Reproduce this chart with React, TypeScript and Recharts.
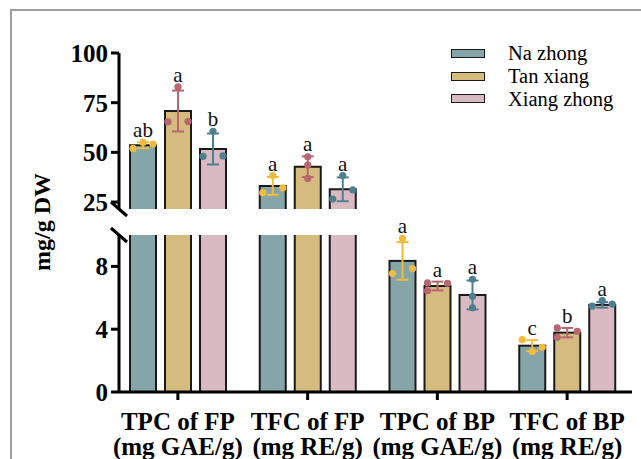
import React from 'react';
import { BarChart, Bar, XAxis, YAxis, ErrorBar, Legend } from 'recharts';

const FONT = '"Liberation Serif", "Times New Roman", serif';

const categories = ['TPC of FP', 'TFC of FP', 'TPC of BP', 'TFC of BP'];
const units = ['(mg GAE/g)', '(mg RE/g)', '(mg GAE/g)', '(mg RE/g)'];
const varieties = ['Na zhong', 'Tan xiang', 'Xiang zhong'];

// bar heights (mean) and SD
const naZhongMean = [53.6, 33.1, 8.35, 2.95];
const tanXiangMean = [70.8, 42.8, 6.75, 3.78];
const xiangZhongMean = [51.7, 31.4, 6.18, 5.55];

const naZhongSd = [1.5, 4.5, 1.2, 0.35];
const tanXiangSd = [10.3, 5.2, 0.28, 0.3];
const xiangZhongSd = [7.8, 6.0, 0.92, 0.18];

// replicate points
const naZhongReps = [[52.0, 55.0, 54.2], [29.7, 38.3, 32.1], [7.54, 9.79, 7.86], [3.33, 2.58, 2.85]];
const tanXiangReps = [[65.3, 83.0, 65.5], [36.9, 43.6, 47.8], [6.45, 6.95, 6.92], [3.48, 4.08, 3.87]];
const xiangZhongReps = [[48.0, 60.6, 48.2], [26.5, 38.3, 31.1], [5.36, 6.1, 7.18], [5.47, 5.82, 5.6]];

// significance letters
const naZhongLetters = ['ab', 'a', 'a', 'c'];
const tanXiangLetters = ['a', 'a', 'a', 'b'];
const xiangZhongLetters = ['b', 'a', 'a', 'a'];

const topTicks = [25, 50, 75, 100];
const bottomTicks = [0, 4, 8];
const topDomain: [number, number] = [21.5, 100];
const bottomDomain: [number, number] = [0, 10];

// horizontal placement of replicate dots (-1 left, 0 centre, 1 right)
const naZhongSpread = [[-1, 0, 1], [-1, 0, 1], [-1, 0, 1], [-1, 0, 1]];
const tanXiangSpread = [[-1, 0, 1], [0, 0, 0], [-1, -1, 1], [-1, -1, 1]];
const xiangZhongSpread = [[-1, 0, 1], [-1, 0, 1], [0, 0, 0], [-1, 0, 1]];

const series = [
  { key: 'naZhong', name: varieties[0], mean: naZhongMean, sd: naZhongSd, reps: naZhongReps, letters: naZhongLetters, spread: naZhongSpread, fill: '#86a5a8', mark: '#f1bb3c' },
  { key: 'tanXiang', name: varieties[1], mean: tanXiangMean, sd: tanXiangSd, reps: tanXiangReps, letters: tanXiangLetters, spread: tanXiangSpread, fill: '#d6bb7f', mark: '#b8666f' },
  { key: 'xiangZhong', name: varieties[2], mean: xiangZhongMean, sd: xiangZhongSd, reps: xiangZhongReps, letters: xiangZhongLetters, spread: xiangZhongSpread, fill: '#d9bac3', mark: '#4f7e8e' },
];

const inUpper = (v: number) => v > bottomDomain[1];

function buildRows(keep: (v: number) => boolean) {
  return categories.map((category, i) => {
    const row: any = { category };
    series.forEach((s) => {
      const ok = keep(s.mean[i]);
      row[s.key] = ok ? s.mean[i] : null;
      row[s.key + 'Sd'] = ok ? s.sd[i] : null;
    });
    return row;
  });
}

const upperRows = buildRows(inUpper);
const lowerRows = buildRows(() => true);
const lowerMarkRows = buildRows((v) => !inUpper(v));

const W = 641;
const H = 459;
const AXIS_W = 60;
const LEFT = 59;
const RIGHT = 9;
const TOP_Y = 53;
const TOP_END = 209;
const LOW_Y = 235;
const X_AXIS_H = 67;
const AXIS_X = LEFT + AXIS_W;

const axisStroke = { stroke: '#000', strokeWidth: 3 };
const tickFont = { fill: '#000', fontSize: 25, fontWeight: 'bold', fontFamily: FONT };

function barShape(s: any, base: number, opts: { fill: boolean; openBottom?: boolean; marks: boolean }) {
  return (props: any) => {
    const { x, y, width, height, payload } = props;
    const i = categories.indexOf(payload?.category);
    const mean = payload?.[s.key];
    if (mean == null || i < 0 || !(height > 0)) return <g />;
    const py = (v: number) => y + height - ((v - base) * height) / (mean - base);
    const cx = x + width / 2;
    const parts: any[] = [];
    if (opts.fill) {
      parts.push(
        <rect key="f" x={x} y={y} width={width} height={height} fill={s.fill}
          stroke={opts.openBottom ? 'none' : '#1a1a1a'} strokeWidth={2} />
      );
      if (opts.openBottom) {
        parts.push(
          <path key="o" d={`M${x},${y + height}V${y}H${x + width}V${y + height}`}
            fill="none" stroke="#1a1a1a" strokeWidth={2} />
        );
      }
    }
    if (opts.marks) {
      s.reps[i].forEach((v: number, k: number) => {
        parts.push(<circle key={'d' + k} cx={cx + s.spread[i][k] * 10} cy={py(v)} r={3.6} fill={s.mark} />);
      });
      const top = Math.min(py(mean + s.sd[i]), ...s.reps[i].map(py));
      parts.push(
        <text key="l" x={cx} y={top - 5} textAnchor="middle" fontFamily={FONT} fontSize={21} fill="#111">
          {s.letters[i]}
        </text>
      );
    }
    return <g>{parts}</g>;
  };
}

const CategoryTick = (props: any) => {
  const { x, y, payload } = props;
  const i = categories.indexOf(payload.value);
  return (
    <text x={x} y={y} textAnchor="middle" fontFamily={FONT} fontSize={25} fontWeight="bold" fill="#000">
      <tspan x={x} dy={28}>{categories[i]}</tspan>
      <tspan x={x} dy={25}>{units[i]}</tspan>
    </text>
  );
};

const LEGEND_ROW = 22.8;

const renderLegend = () => (
  <div style={{ fontFamily: FONT, fontSize: 20.5, color: '#000' }}>
    {series.map((s) => (
      <div key={s.key} style={{ position: 'relative', height: LEGEND_ROW }}>
        <span style={{ position: 'absolute', left: 0, top: 6.9, width: 34, height: 9, background: s.fill, border: '1.5px solid #1a1a1a', boxSizing: 'border-box' }} />
        <span style={{ position: 'absolute', left: 57, top: 0, lineHeight: `${LEGEND_ROW}px`, height: LEGEND_ROW, whiteSpace: 'nowrap' }}>{s.name}</span>
      </div>
    ))}
  </div>
);

const layer: React.CSSProperties = { position: 'absolute', left: 0, top: 0 };

export default function App() {
  return (
    <div style={{ position: 'absolute', left: 0, top: 0, width: W, height: H, background: '#fff' }}>
      {/* lower segment: bars cut at the break */}
      <div style={layer}>
        <BarChart width={W} height={H} data={lowerRows} barSize={26} barGap={9}
          margin={{ top: LOW_Y, right: RIGHT, bottom: 0, left: LEFT }}>
          <XAxis dataKey="category" height={X_AXIS_H} padding={{ left: -6, right: 0 }} tickSize={8}
            axisLine={axisStroke} tickLine={axisStroke} tick={<CategoryTick />} interval={0} />
          <YAxis type="number" domain={bottomDomain} ticks={bottomTicks} allowDataOverflow width={AXIS_W}
            tickSize={8} tickMargin={3} axisLine={axisStroke} tickLine={axisStroke} tick={tickFont} interval={0} />
          {series.map((s) => (
            <Bar key={s.key} dataKey={s.key} name={s.name} fill={s.fill} isAnimationActive={false}
              shape={barShape(s, 0, { fill: true, marks: false })} />
          ))}
        </BarChart>
      </div>

      {/* lower segment: error bars, points, letters (unclipped) */}
      <div style={layer}>
        <BarChart width={W} height={H} data={lowerMarkRows} barSize={26} barGap={9}
          margin={{ top: LOW_Y, right: RIGHT, bottom: 0, left: LEFT }}>
          <XAxis dataKey="category" height={X_AXIS_H} padding={{ left: -6, right: 0 }}
            axisLine={false} tickLine={false} tick={false} />
          <YAxis type="number" domain={bottomDomain} width={AXIS_W} axisLine={false} tickLine={false} tick={false} />
          {series.map((s) => (
            <Bar key={s.key} dataKey={s.key} name={s.name} fill="none" isAnimationActive={false}
              shape={barShape(s, 0, { fill: false, marks: true })}>
              <ErrorBar dataKey={s.key + 'Sd'} width={6} stroke={s.mark} strokeWidth={2} isAnimationActive={false} />
            </Bar>
          ))}
        </BarChart>
      </div>

      {/* upper segment */}
      <div style={layer}>
        <BarChart width={W} height={H} data={upperRows} barSize={26} barGap={9}
          margin={{ top: TOP_Y, right: RIGHT, bottom: H - TOP_END, left: LEFT }}>
          <XAxis dataKey="category" hide padding={{ left: -6, right: 0 }} />
          <YAxis type="number" domain={topDomain} ticks={topTicks} width={AXIS_W}
            tickSize={8} tickMargin={3} axisLine={axisStroke} tickLine={axisStroke} tick={tickFont} interval={0} />
          <Legend layout="vertical" align="center" verticalAlign="middle" content={renderLegend}
            wrapperStyle={{ top: 42, left: 451, width: 190 }} />
          {series.map((s) => (
            <Bar key={s.key} dataKey={s.key} name={s.name} fill={s.fill} isAnimationActive={false}
              shape={barShape(s, topDomain[0], { fill: true, openBottom: true, marks: true })}>
              <ErrorBar dataKey={s.key + 'Sd'} width={6} stroke={s.mark} strokeWidth={2} isAnimationActive={false} />
            </Bar>
          ))}
        </BarChart>
      </div>

      {/* frame, axis title, break marks */}
      <svg width={W} height={H} style={{ ...layer, pointerEvents: 'none' }}>
        <path d={`M11,${H}V10H${W}`} fill="none" stroke="#a0a0a0" strokeWidth={2} />
        <text transform={`translate(50,222) rotate(-90)`} textAnchor="middle" fontFamily={FONT}
          fontSize={24} fontWeight="bold" fill="#000">mg/g DW</text>
        {[TOP_END, LOW_Y].map((yy) => (
          <line key={yy} x1={AXIS_X - 8} y1={yy - 7} x2={AXIS_X + 8} y2={yy + 7} stroke="#000" strokeWidth={3} />
        ))}
      </svg>
    </div>
  );
}
